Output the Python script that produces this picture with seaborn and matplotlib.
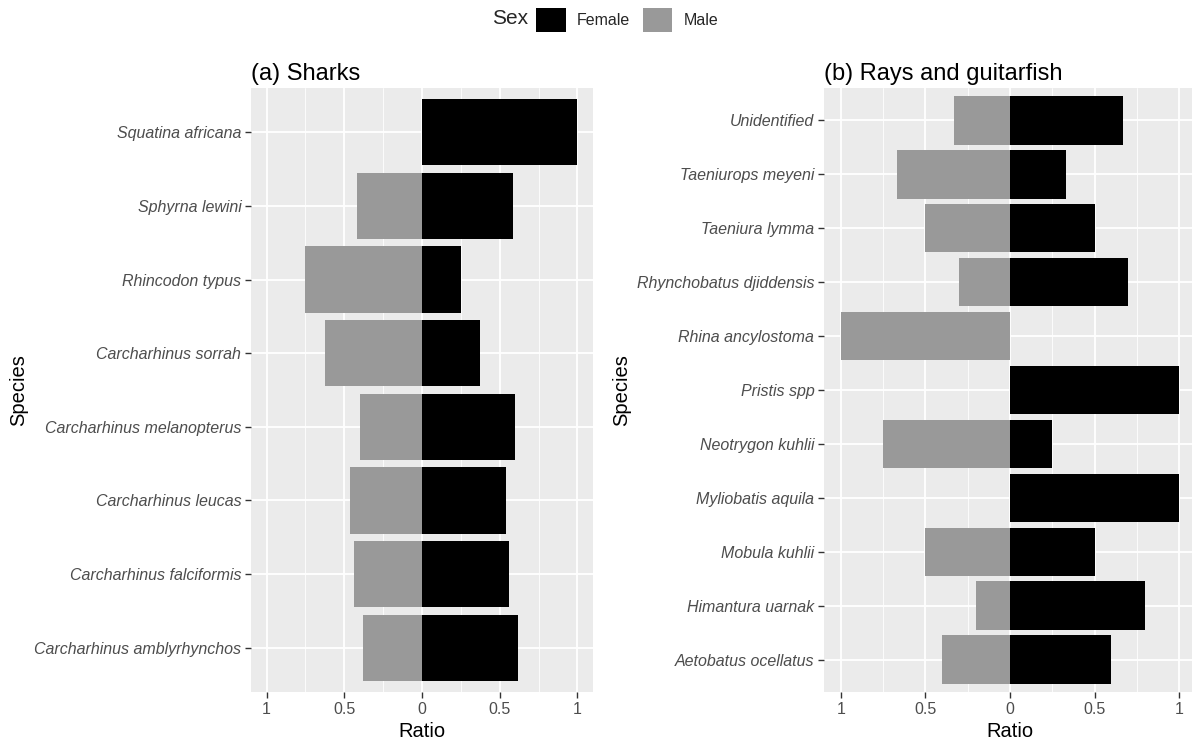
import pandas as pd
import seaborn as sns
import matplotlib.pyplot as plt
from matplotlib.patches import Patch

shark_species = ['Squatina africana', 'Sphyrna lewini', 'Rhincodon typus', 'Carcharhinus sorrah',
                 'Carcharhinus melanopterus', 'Carcharhinus leucas', 'Carcharhinus falciformis',
                 'Carcharhinus amblyrhynchos']
shark_female = [1.0, 0.583, 0.25, 0.375, 0.6, 0.54, 0.56, 0.62]
shark_male = [0.0, 0.417, 0.75, 0.625, 0.4, 0.46, 0.44, 0.38]

ray_species = ['Unidentified', 'Taeniurops meyeni', 'Taeniura lymma', 'Rhynchobatus djiddensis',
               'Rhina ancylostoma', 'Pristis spp', 'Neotrygon kuhlii', 'Myliobatis aquila',
               'Mobula kuhlii', 'Himantura uarnak', 'Aetobatus ocellatus']
ray_female = [0.667, 0.333, 0.5, 0.7, 0.0, 1.0, 0.25, 1.0, 0.5, 0.8, 0.6]
ray_male = [0.333, 0.667, 0.5, 0.3, 1.0, 0.0, 0.75, 0.0, 0.5, 0.2, 0.4]

tick_vals = [-1, -0.5, 0, 0.5, 1]
tick_labels = ['1', '0.5', '0', '0.5', '1']

colors = {'Female': 'black', 'Male': '#999999'}
label_col = '#4D4D4D'

sns.set_theme(style='darkgrid', rc={'axes.facecolor': '#EBEBEB', 'grid.color': 'white'})
plt.rcParams['font.family'] = ['Liberation Sans', 'DejaVu Sans']


def long_table(species, female, male):
    return pd.DataFrame({
        'Species': species * 2,
        'Ratio': list(female) + [-m for m in male],
        'Sex': ['Female'] * len(species) + ['Male'] * len(species),
    })


def draw(ax, species, female, male, title):
    df = long_table(species, female, male)
    sns.barplot(data=df, x='Ratio', y='Species', hue='Sex', order=species,
                hue_order=['Female', 'Male'], palette=colors, dodge=False,
                width=0.9, orient='h', legend=False, linewidth=0, ax=ax)
    n = len(species)
    ax.set_xlim(-1.1, 1.1)
    ax.set_ylim(n - 1 + 0.6, -0.6)
    ax.set_xticks(tick_vals)
    ax.set_xticklabels(tick_labels)
    ax.set_xticks([-0.75, -0.25, 0.25, 0.75], minor=True)
    ax.grid(True, which='major', axis='both', color='white', linewidth=1.3)
    ax.grid(True, which='minor', axis='x', color='white', linewidth=0.6)
    ax.set_axisbelow(True)
    for s in ax.spines.values():
        s.set_visible(False)
    ax.tick_params(axis='both', which='major', length=4, width=1, color='#333333',
                   labelcolor=label_col, labelsize=11.5, pad=3, left=True, bottom=True)
    ax.tick_params(axis='x', which='minor', length=0)
    for t in ax.get_yticklabels():
        t.set_fontstyle('italic')
    ax.set_xlabel('Ratio', fontsize=14.5, color='black', labelpad=4)
    ax.set_ylabel('Species', fontsize=14.5, color='black')
    ax.set_title(title, loc='left', fontsize=17, color='black', pad=6)


fig = plt.figure(figsize=(11.92, 7.45), dpi=100)
W, H = 1192, 745
ax1 = fig.add_axes([251 / W, 1 - 692 / H, (593 - 251) / W, (692 - 88) / H])
ax2 = fig.add_axes([824 / W, 1 - 692 / H, (1196 - 824) / W, (692 - 88) / H])

draw(ax1, shark_species, shark_female, shark_male, '(a) Sharks')
draw(ax2, ray_species, ray_female, ray_male, '(b) Rays and guitarfish')
ax1.yaxis.set_label_coords(-(251 - 28) / (593 - 251), 0.5)
ax2.yaxis.set_label_coords(-(824 - 631) / (1196 - 824), 0.5)

handles = [Patch(facecolor=colors[k], edgecolor='none', label=k) for k in ['Female', 'Male']]
fig.text(510 / W, 1 - 19 / H, 'Sex', fontsize=15, ha='center', va='center')
fig.legend(handles=handles, loc='center left', bbox_to_anchor=(536 / W, 1 - 20 / H),
           ncol=2, frameon=False, fontsize=11.5, handlelength=1.85, handleheight=1.85,
           columnspacing=0.8, handletextpad=0.7, borderaxespad=0, borderpad=0)

fig.savefig('out.png', dpi=100)
